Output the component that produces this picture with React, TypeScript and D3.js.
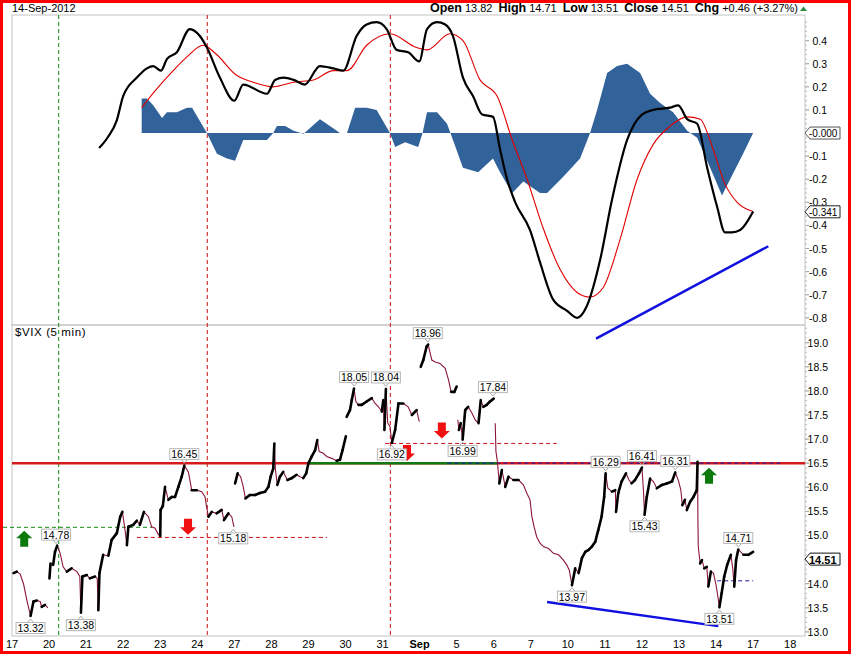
import * as d3 from "d3";

// trading-day index: 0 = Aug 17, 1 = Aug 20 ... 20 = Sep 17
const dayLabels = ["17", "20", "21", "22", "23", "24", "27", "28", "29", "30", "31", "Sep", "5", "6", "7", "10", "11", "12", "13", "14", "17", "18"];

const headerFields = ["Open", "High", "Low", "Close", "Chg"];
const headerValues = ["13.82", "14.71", "13.51", "14.51", "+0.46 (+3.27%)"];

// indicator panel
const macdLine: [number, number][] = [
  [2.35, -0.065], [2.59, -0.017], [2.83, 0.056], [3.0, 0.16], [3.37, 0.24], [3.64, 0.28], [3.81, 0.29], [4.02, 0.27],
  [4.18, 0.32], [4.45, 0.35], [4.8, 0.45], [5.07, 0.42], [5.26, 0.37], [5.61, 0.24], [6.0, 0.14], [6.24, 0.21],
  [6.88, 0.17], [7.1, 0.23], [7.33, 0.24], [7.6, 0.23], [7.9, 0.21], [8.31, 0.29], [8.67, 0.28], [8.94, 0.27],
  [9.3, 0.42], [9.57, 0.47], [9.84, 0.48], [10.11, 0.45], [10.38, 0.36], [10.69, 0.35], [10.99, 0.31], [11.2, 0.45],
  [11.47, 0.48], [11.69, 0.47], [11.9, 0.42], [12.17, 0.24], [12.44, 0.16], [12.69, 0.08], [12.98, 0.07], [13.17, -0.07],
  [13.36, -0.2], [13.58, -0.3], [13.98, -0.42], [14.25, -0.56], [14.6, -0.72], [14.98, -0.77], [15.25, -0.8], [15.51, -0.75],
  [15.87, -0.55], [16.19, -0.29], [16.6, -0.03], [17.0, 0.08], [17.3, 0.1], [17.76, 0.11], [17.98, 0.12], [18.22, 0.06],
  [18.49, 0.04], [18.76, -0.15], [19.03, -0.32], [19.24, -0.43], [19.43, -0.43], [19.65, -0.42], [20.0, -0.34],
];

const signalLine: [number, number][] = [
  [3.5, 0.11], [3.9, 0.19], [4.35, 0.27], [4.72, 0.33], [5.16, 0.38], [5.52, 0.34], [6.06, 0.25], [6.51, 0.22],
  [7.05, 0.2], [7.6, 0.22], [8.13, 0.23], [8.67, 0.27], [9.04, 0.27], [9.57, 0.38], [10.2, 0.43], [10.92, 0.37],
  [11.2, 0.36], [11.82, 0.43], [12.17, 0.4], [12.63, 0.23], [13.09, 0.16], [13.5, -0.03], [13.9, -0.2], [14.33, -0.41],
  [14.79, -0.59], [15.25, -0.69], [15.6, -0.71], [15.95, -0.67], [16.41, -0.46], [16.87, -0.2], [17.3, -0.05], [17.76, 0.03],
  [18.22, 0.07], [18.57, 0.06], [18.92, -0.07], [19.24, -0.22], [19.57, -0.3], [20.0, -0.34],
];

const histogram: [number, number][] = [
  [3.5, 0.15], [3.64, 0.15], [3.81, 0.12], [4.05, 0.065], [4.18, 0.09], [4.45, 0.09], [4.72, 0.11], [4.86, 0.11],
  [5.26, 0], [5.53, -0.09], [5.8, -0.11], [6.02, -0.12], [6.24, -0.03], [6.51, -0.03], [6.88, -0.03], [7.05, 0],
  [7.15, 0.03], [7.37, 0.03], [7.6, 0.01], [7.87, -0.003], [8.31, 0.06], [8.58, 0.03], [8.85, 0], [9.04, 0],
  [9.26, 0.11], [9.57, 0.11], [9.84, 0.1], [10.2, 0], [10.34, -0.06], [10.61, -0.04], [10.96, -0.06], [11.08, 0],
  [11.2, 0.09], [11.47, 0.09], [11.74, 0.04], [11.9, -0.03], [12.17, -0.15], [12.58, -0.17], [12.98, -0.11], [13.17, -0.17],
  [13.5, -0.26], [13.8, -0.21], [14.25, -0.26], [14.44, -0.26], [14.87, -0.19], [15.33, -0.11], [15.6, 0], [15.79, 0.1],
  [16.06, 0.26], [16.33, 0.29], [16.6, 0.3], [16.95, 0.26], [17.22, 0.17], [17.49, 0.13], [17.84, 0.09], [18.22, 0.01],
  [18.49, -0.02], [18.76, -0.12], [19.16, -0.27], [19.38, -0.2], [19.73, -0.09], [20.0, 0],
];

// 0.0 sits under the last-value box
const topTicks = [0.4, 0.3, 0.2, 0.1, -0.1, -0.2, -0.3, -0.4, -0.5, -0.6, -0.7, -0.8];
const topTrend: [number, number][] = [[15.76, -0.89], [20.41, -0.49]];
const macdLast = -0.341;

// $VIX 5-min sessions
const vixSessions: [number, number][][] = [
  [[0.04, 14.22], [0.13, 14.25], [0.22, 14.2], [0.31, 14.0], [0.4, 13.66], [0.5, 13.33], [0.58, 13.63], [0.67, 13.65],
   [0.76, 13.63], [0.8, 13.52], [0.89, 13.56], [0.97, 13.5]],
  [[1.01, 14.11], [1.04, 14.42], [1.11, 14.39], [1.16, 14.66], [1.22, 14.79], [1.3, 14.63], [1.38, 14.35], [1.48, 14.25],
   [1.61, 14.32], [1.75, 14.25], [1.83, 14.15], [1.86, 13.4], [1.9, 14.15], [2.02, 14.18], [2.1, 14.11], [2.24, 14.15],
   [2.3, 14.11], [2.33, 13.45], [2.36, 14.22], [2.46, 14.6], [2.6, 14.58], [2.69, 14.91], [2.83, 15.05], [2.92, 15.39],
   [2.98, 15.49], [3.05, 15.11], [3.1, 14.8], [3.14, 15.18], [3.27, 15.22], [3.37, 15.31], [3.45, 15.22], [3.56, 15.49],
   [3.68, 15.39], [3.77, 15.18], [3.86, 15.15], [3.95, 15.02], [4.0, 14.99], [4.01, 15.53], [4.07, 15.61], [4.13, 16.01],
   [4.22, 15.74], [4.31, 15.8], [4.4, 15.8], [4.49, 16.01], [4.58, 16.22], [4.65, 16.45], [4.76, 16.32], [4.85, 15.94],
   [4.99, 15.94], [5.12, 15.91], [5.21, 15.8], [5.25, 15.6], [5.3, 15.39], [5.39, 15.49], [5.52, 15.46], [5.66, 15.53],
   [5.72, 15.32], [5.84, 15.46], [5.93, 15.39], [5.99, 15.18]],
  [[6.02, 16.08], [6.09, 16.29], [6.17, 16.22], [6.24, 16.01], [6.3, 15.77], [6.42, 15.84], [6.56, 15.84], [6.69, 15.88],
   [6.83, 15.91], [6.92, 16.01], [6.98, 16.22], [7.05, 16.39], [7.08, 16.91], [7.11, 16.36], [7.16, 16.05], [7.23, 16.22],
   [7.32, 16.32], [7.43, 16.15], [7.55, 16.19], [7.68, 16.26], [7.77, 16.22], [7.86, 16.19], [7.94, 16.29], [8.0, 16.5],
   [8.09, 16.64], [8.18, 16.77], [8.24, 16.98], [8.29, 16.74], [8.39, 16.71], [8.49, 16.64], [8.63, 16.6], [8.76, 16.55],
   [8.85, 16.57], [8.92, 16.77], [9.01, 17.06]],
  [[9.03, 17.46], [9.12, 17.6], [9.17, 17.81], [9.23, 18.05], [9.28, 17.78], [9.35, 17.71], [9.44, 17.71], [9.57, 17.78],
   [9.71, 17.85], [9.8, 17.74], [9.89, 17.67], [9.98, 17.57], [10.02, 17.81], [10.05, 17.19], [10.09, 18.04], [10.14, 17.33],
   [10.2, 17.26], [10.25, 16.92], [10.34, 17.19], [10.43, 17.74], [10.56, 17.74], [10.69, 17.67], [10.79, 17.5], [10.92, 17.6],
   [10.99, 17.36]],
  [[11.03, 18.5], [11.1, 18.64], [11.19, 18.92], [11.23, 18.96], [11.33, 18.64], [11.42, 18.6], [11.55, 18.57], [11.69, 18.47],
   [11.78, 18.23], [11.85, 17.98], [11.94, 17.98], [12.0, 18.09]],
  [[12.03, 17.4], [12.06, 17.19], [12.11, 17.33], [12.16, 16.99], [12.23, 17.6], [12.31, 17.67], [12.41, 17.54], [12.5, 17.4],
   [12.59, 17.33], [12.65, 17.81], [12.72, 17.67], [12.81, 17.71], [12.9, 17.78], [13.0, 17.84]],
  [[13.04, 17.33], [13.06, 16.74], [13.1, 16.53], [13.15, 16.08], [13.22, 16.36], [13.31, 16.01], [13.4, 16.22], [13.53, 16.15],
   [13.67, 16.15], [13.8, 16.05], [13.89, 15.88], [13.98, 15.74], [14.03, 15.39], [14.09, 15.18], [14.16, 14.97], [14.25, 14.84],
   [14.34, 14.77], [14.48, 14.73], [14.61, 14.63], [14.75, 14.6], [14.88, 14.49], [14.97, 14.39], [15.04, 14.28], [15.11, 13.97],
   [15.2, 14.32], [15.29, 14.22], [15.38, 14.53], [15.47, 14.66], [15.56, 14.7], [15.65, 14.77], [15.74, 14.87], [15.82, 15.11],
   [15.91, 15.39], [15.98, 15.8], [16.02, 16.29], [16.08, 15.98], [16.19, 15.91], [16.28, 15.94], [16.3, 15.49], [16.36, 15.88],
   [16.45, 16.12], [16.57, 16.29], [16.65, 16.15], [16.72, 16.08], [16.81, 16.15], [16.92, 16.29], [17.0, 16.41], [17.04, 15.94],
   [17.07, 15.43], [17.13, 15.8], [17.22, 16.18], [17.31, 16.12], [17.4, 15.98], [17.54, 16.05], [17.67, 16.08], [17.81, 16.12],
   [17.9, 16.31], [17.98, 16.15], [18.05, 15.94], [18.09, 15.63], [18.16, 15.74], [18.21, 15.53], [18.3, 15.7], [18.39, 15.8],
   [18.48, 15.94], [18.5, 16.53], [18.51, 15.32], [18.52, 14.77], [18.57, 14.42], [18.62, 14.49], [18.68, 14.32], [18.75, 14.35],
   [18.79, 13.94], [18.86, 14.25], [18.93, 14.22], [19.0, 13.97], [19.05, 13.73], [19.09, 13.51], [19.15, 13.8], [19.22, 14.15],
   [19.3, 14.39], [19.4, 14.6], [19.45, 14.32], [19.49, 13.94], [19.54, 14.49], [19.6, 14.71], [19.74, 14.6], [19.87, 14.6],
   [20.0, 14.66]],
];

// 14.5 sits under the last-price box
const vixTicks = [13.0, 13.5, 14.0, 15.0, 15.5, 16.0, 16.5, 17.0, 17.5, 18.0, 18.5, 19.0];
const vixLast = 14.51;

// [time, value, 1 = above / -1 = below]
const pivotLabels: [number, number, number][] = [
  [0.5, 13.32, -1], [1.19, 14.78, 1], [1.86, 13.38, -1], [4.65, 16.45, 1], [5.97, 15.18, -1],
  [9.23, 18.05, 1], [10.09, 18.04, 1], [10.25, 16.92, -1], [11.22, 18.96, 1], [12.16, 16.99, -1],
  [12.98, 17.84, 1], [16.02, 16.29, 1], [17.0, 16.41, 1], [17.9, 16.31, 1], [17.07, 15.43, -1],
  [15.11, 13.97, -1], [19.6, 14.71, 1], [19.09, 13.51, -1],
];

const resistance = 16.5;
const greenSupport: [number, number] = [7.96, 13.1];
const blueDashed16: [number, number] = [11.75, 20.8];
// [from, to, value, colour]
const dashedLevels: [number, number, number, string][] = [
  [-0.25, 3.78, 15.17, "#118811"],
  [3.37, 8.5, 14.96, "#cc1111"],
  [10.07, 14.7, 16.91, "#cc1111"],
  [19.03, 20.0, 14.06, "#1a1aa8"],
];
const bottomTrend: [number, number][] = [[14.44, 13.62], [19.06, 13.12]];
const verticalMarks: [number, string][] = [[1.26, "#118811"], [5.27, "#cc1111"], [10.21, "#cc1111"]];
// [time, value, 1 = up green / -1 = down red]
const signalArrows: [number, number, number][] = [
  [0.33, 14.93, 1], [4.75, 15.18, -1], [10.66, 16.71, -1], [11.6, 17.18, -1], [18.81, 16.24, 1],
];

const font = "'Liberation Sans', Arial, sans-serif";

const arrowPath = (cx: number, cy: number, dir: number) => {
  const p = d3.path();
  const s = dir;
  p.moveTo(cx, cy - s * 8);
  p.lineTo(cx + 8, cy - s * 0.5);
  p.lineTo(cx + 4, cy - s * 0.5);
  p.lineTo(cx + 4, cy + s * 8);
  p.lineTo(cx - 4, cy + s * 8);
  p.lineTo(cx - 4, cy - s * 0.5);
  p.lineTo(cx - 8, cy - s * 0.5);
  p.closePath();
  return p.toString();
};

const valueBox = (y: number, x0: number, x1: number) => {
  const p = d3.path();
  p.moveTo(x0, y);
  p.lineTo(x0 + 5, y - 6);
  p.lineTo(x1, y - 6);
  p.lineTo(x1, y + 6);
  p.lineTo(x0 + 5, y + 6);
  p.closePath();
  return p.toString();
};

export default function App() {
  const left = 12, right = 805;
  const x = d3.scaleLinear().domain([0, 21.4]).range([left, right]);
  const yTop = d3.scaleLinear().domain([-0.831, 0.511]).range([325, 15]);
  const yBot = d3.scaleLinear().domain([12.915, 19.367]).range([636, 325]);

  const topLine = d3.line<[number, number]>().curve(d3.curveMonotoneX).x((d) => x(d[0])).y((d) => yTop(d[1]));
  const histArea = d3.area<[number, number]>().x((d) => x(d[0])).y0(yTop(0)).y1((d) => yTop(d[1]));
  const botLine = d3.line<[number, number]>().x((d) => x(d[0])).y((d) => yBot(d[1]));

  return (
    <div style={{ position: "absolute", left: 0, top: 0 }}>
      <svg width={851} height={654} style={{ display: "block", fontFamily: font }}>
        <rect x={0} y={0} width={851} height={654} fill="#fff" />

        {/* header */}
        <text x={12} y={12} fontSize={11}>14-Sep-2012</text>
        <text x={798} y={12} textAnchor="end" fontSize={11}>
          {headerFields.map((f, i) => (
            <tspan key={f}>
              <tspan dx={i === 0 ? 0 : 6} fontWeight="bold" fontSize={12.5} fontFamily="'Liberation Sans Narrow', 'Liberation Sans', Arial">{f}</tspan>
              <tspan dx={3}>{headerValues[i]}</tspan>
            </tspan>
          ))}
        </text>
        <path d="M800,11 L803.5,6.5 L807,11 Z" fill="#2e8b40" />

        {/* panel frames */}
        <rect x={left} y={15} width={right - left} height={310} fill="none" stroke="#c4c4c4" />
        <rect x={left} y={325} width={right - left} height={311} fill="none" stroke="#c4c4c4" />

        {/* top axis */}
        {topTicks.map((t) => (
          <g key={t}>
            <line x1={right} x2={right + 4} y1={yTop(t)} y2={yTop(t)} stroke="#999" />
            <text x={827} y={yTop(t) + 4} textAnchor="end" fontSize={10.5}>{t.toFixed(1)}</text>
          </g>
        ))}
        {d3.range(-0.8, 0.5, 0.02).map((t) => (
          <line key={t} x1={right} x2={right + 2} y1={yTop(t)} y2={yTop(t)} stroke="#bbb" />
        ))}

        {/* bottom axis */}
        {vixTicks.map((t) => (
          <g key={t}>
            <line x1={right} x2={right + 4} y1={yBot(t)} y2={yBot(t)} stroke="#999" />
            <text x={828} y={yBot(t) + 4} textAnchor="end" fontSize={10.5}>{t.toFixed(1)}</text>
          </g>
        ))}
        {d3.range(13, 19.3, 0.1).map((t) => (
          <line key={t} x1={right} x2={right + 2} y1={yBot(t)} y2={yBot(t)} stroke="#bbb" />
        ))}

        {/* x labels */}
        {dayLabels.map((l, i) => (
          <text key={i} x={x(i)} y={648} textAnchor="middle" fontSize={11} fontWeight={l === "Sep" ? "bold" : "normal"}>{l}</text>
        ))}

        {/* vertical markers */}
        {verticalMarks.map(([t, c]) => (
          <line key={t} x1={x(t)} x2={x(t)} y1={15} y2={636} stroke={c} strokeDasharray="4,3" />
        ))}

        {/* indicator */}
        <path d={histArea(histogram)!} fill="#31629a" />
        <path d={topLine(signalLine)!} fill="none" stroke="#e00000" strokeWidth={1.1} />
        <path d={topLine(macdLine)!} fill="none" stroke="#000" strokeWidth={2.2} />
        <path d={d3.line()(topTrend.map((d) => [x(d[0]), yTop(d[1])]))!} stroke="#1010e0" strokeWidth={2.5} />

        <path d={valueBox(yTop(0), right, 840)} fill="#fff" stroke="#555" />
        <text x={809} y={yTop(0) + 4} fontSize={10}>-0.000</text>
        <path d={valueBox(yTop(macdLast), right, 840)} fill="#fff" stroke="#222" />
        <text x={809} y={yTop(macdLast) + 4} fontSize={10}>{macdLast.toFixed(3)}</text>

        {/* price panel */}
        <text x={15} y={336} fontSize={11.5} letterSpacing={0.6}>$VIX (5 min)</text>

        {dashedLevels.map(([a, b, v, c]) => (
          <line key={v} x1={Math.max(x(a), 3)} x2={x(b)} y1={yBot(v)} y2={yBot(v)} stroke={c} strokeDasharray="4,3" />
        ))}
        <line x1={x(0)} x2={x(21.4)} y1={yBot(resistance)} y2={yBot(resistance)} stroke="#d41a1a" strokeWidth={2.5} />
        <line x1={x(greenSupport[0])} x2={x(greenSupport[1])} y1={yBot(resistance)} y2={yBot(resistance)} stroke="#117a11" strokeWidth={2.5} />
        <line x1={x(blueDashed16[0])} x2={x(blueDashed16[1])} y1={yBot(resistance)} y2={yBot(resistance)} stroke="#1a1aa8" strokeDasharray="4,3" />
        <path d={botLine(bottomTrend)!} stroke="#1010e0" strokeWidth={2.5} />

        {vixSessions.map((s, i) => (
          <g key={i}>
            <path d={botLine(s)!} fill="none" stroke="#8b1538" strokeWidth={1.1} />
            {s.slice(1).map((p, j) =>
              p[1] >= s[j][1] ? (
                <path key={j} d={botLine([s[j], p])!} stroke="#000" strokeWidth={2.6} strokeLinecap="round" />
              ) : null
            )}
          </g>
        ))}

        {signalArrows.map(([t, v, dir]) => (
          <path key={t} d={arrowPath(x(t), yBot(v), dir)} fill={dir > 0 ? "#0b7a0b" : "#f01010"} />
        ))}

        {pivotLabels.map(([t, v, dir]) => {
          const cx = x(t);
          const py = yBot(v);
          const cy = py - dir * 11.5;
          const edge = cy + dir * 5.5;
          return (
            <g key={`${t}-${v}`}>
              <path d={`M${cx - 3},${edge} L${cx},${edge + dir * 3.5} L${cx + 3},${edge}`} fill="none" stroke="#aaa" />
              <rect x={cx - 14.5} y={cy - 5.5} width={29} height={11} fill="#fff" stroke="#b8b8b8" />
              <text x={cx} y={cy + 4} textAnchor="middle" fontSize={10.5}>{v.toFixed(2)}</text>
            </g>
          );
        })}

        <path d={valueBox(yBot(vixLast), right, 840)} fill="#fff" stroke="#111" />
        <text x={809} y={yBot(vixLast) + 4.5} fontSize={11} fontWeight="bold">{vixLast.toFixed(2)}</text>

        {/* outer frame */}
        <rect x={1.5} y={1.5} width={848} height={651} fill="none" stroke="#ff0000" strokeWidth={3} />
      </svg>
    </div>
  );
}
